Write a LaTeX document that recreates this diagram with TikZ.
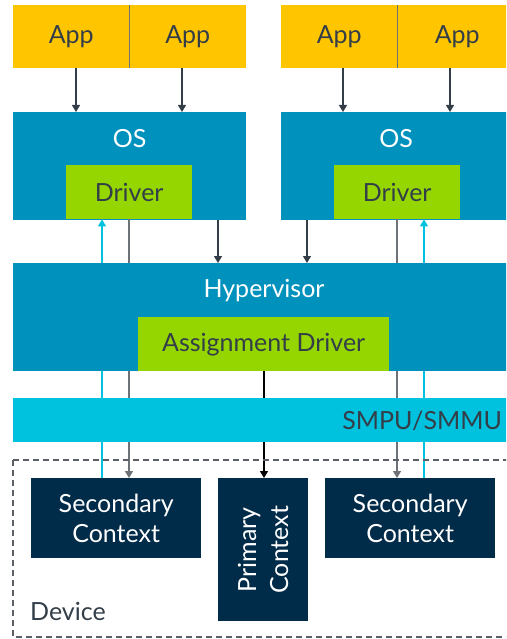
\documentclass[tikz,border=0pt]{standalone}
\usepackage{fontspec}
\setmainfont{Lato}
\usetikzlibrary{arrows.meta,calc,backgrounds}
\definecolor{appyellow}{HTML}{FFC600}
\definecolor{osblue}{HTML}{0091BD}
\definecolor{drvgreen}{HTML}{95D600}
\definecolor{mmucyan}{HTML}{00C1DE}
\definecolor{ctxnavy}{HTML}{002B49}
\definecolor{inktext}{HTML}{333E48}
\definecolor{linegray}{HTML}{6D7278}
\definecolor{dashgray}{HTML}{5A6066}
\tikzset{
  blk/.style={rectangle, inner sep=0pt, anchor=north west, font=\fontsize{25}{30}\selectfont},
  appbox/.style={blk, fill=appyellow, text=inktext},
  osbox/.style={blk, fill=osblue, text=white},
  drvbox/.style={blk, fill=drvgreen, text=inktext},
  ctxbox/.style={blk, fill=ctxnavy, text=white, align=center},
  lbl/.style={inner sep=0pt, font=\fontsize{25}{30}\selectfont},
  tip/.style={-{Triangle[width=8pt,length=7pt]}},
  darkarr/.style={tip, draw=inktext, line width=1.2pt},
  grayln/.style={draw=linegray, line width=1.4pt},
  grayarr/.style={grayln, tip},
  blackarr/.style={tip, draw=black, line width=1.2pt},
  cyanln/.style={draw=mmucyan, line width=1.2pt},
  cyanarr/.style={cyanln, tip},
  devborder/.style={draw=dashgray, line width=1.2pt, dash pattern=on 6pt off 4pt},
}
\begin{document}
\begin{tikzpicture}[x=1pt,y=-1pt]
\useasboundingbox (0,0) rectangle (506,639);
\begin{scope}
\clip (0,0) rectangle (506,639);
% application layer
\node[appbox, minimum width=116pt, minimum height=63pt] (appA) at (13,5) {App};
\node[appbox, minimum width=117pt, minimum height=63pt] (appB) at (129,5) {App};
\node[appbox, minimum width=116pt, minimum height=63pt] (appC) at (281,5) {App};
\node[appbox, minimum width=120pt, minimum height=63pt] (appD) at (397,5) {App};
\draw[linegray, line width=1pt] (appA.north east) -- (appA.south east);
\draw[linegray, line width=1pt] (appC.north east) -- (appC.south east);

% guest operating systems
\node[osbox, minimum width=233pt, minimum height=108pt] (osL) at (13,112) {};
\node[osbox, minimum width=230pt, minimum height=108pt] (osR) at (281,112) {};
\node[lbl, text=white] at ($(osL.north)+(0,27)$) {OS};
\node[lbl, text=white] at ($(osR.north)+(0,27)$) {OS};
\node[drvbox, minimum width=126pt, minimum height=54pt] (drvL) at (66,165) {Driver};
\node[drvbox, minimum width=126pt, minimum height=54pt] (drvR) at (334,165) {Driver};

% hypervisor
\node[osbox, minimum width=500pt, minimum height=108pt] (hyp) at (13,263) {};
\node[lbl, text=white] at (264,291) {Hypervisor};
\node[drvbox, minimum width=251pt, minimum height=54pt] (adrv) at (138,317) {Assignment Driver};

% SMPU/SMMU
\node[blk, fill=mmucyan, minimum width=500pt, minimum height=44pt] (mmu) at (13,398) {};
\node[lbl, text=inktext, anchor=east] at (502,421) {SMPU/SMMU};

% device
\draw[devborder] (13,460) -- (13,637) -- (520,637);
\draw[devborder] (13,460) -- (520,460);
\node[lbl, text=inktext, anchor=west] (dev) at (30,611) {Device};
\node[ctxbox, minimum width=170pt, minimum height=80pt] (secL) at (31,478) {Secondary\\Context};
\node[ctxbox, minimum width=90pt, minimum height=143pt] (prim) at (218,478) {};
\node[lbl, text=white, rotate=90, align=center] at (prim.center) {Primary\\[2pt]Context};
\node[ctxbox, minimum width=170pt, minimum height=80pt] (secR) at (325,478) {Secondary\\Context};

% connector columns
\coordinate (xa) at (76,0);
\coordinate (xb) at (182,0);
\coordinate (xc) at (343,0);
\coordinate (xd) at (450,0);
\coordinate (xe) at (102,0);
\coordinate (xf) at (129,0);
\coordinate (xg) at (218,0);
\coordinate (xh) at (264,0);
\coordinate (xi) at (307,0);
\coordinate (xj) at (397,0);
\coordinate (xk) at (424,0);

% apps to OS
\draw[darkarr] (xa |- appA.south) -- (xa |- osL.north);
\draw[darkarr] (xb |- appB.south) -- (xb |- osL.north);
\draw[darkarr] (xc |- appC.south) -- (xc |- osR.north);
\draw[darkarr] (xd |- appD.south) -- (xd |- osR.north);

% OS to hypervisor
\draw[cyanarr] (xe |- hyp.north) -- (xe |- drvL.south);
\draw[grayln] (xf |- drvL.south) -- (xf |- hyp.north);
\draw[darkarr] (xg |- osL.south) -- (xg |- hyp.north);
\draw[darkarr] (xi |- osR.south) -- (xi |- hyp.north);
\draw[grayln] (xj |- drvR.south) -- (xj |- hyp.north);
\draw[cyanarr] (xk |- hyp.north) -- (xk |- drvR.south);

% hypervisor to device contexts, passing behind the SMPU/SMMU bar
\begin{scope}[on background layer]
\draw[cyanln] (xe |- secL.north) -- (xe |- hyp.south);
\draw[grayarr] (xf |- hyp.south) -- (xf |- secL.north);
\draw[blackarr] (xh |- adrv.south) -- (xh |- prim.north);
\draw[grayarr] (xj |- hyp.south) -- (xj |- secR.north);
\draw[cyanln] (xk |- secR.north) -- (xk |- hyp.south);
\end{scope}
\end{scope}
\end{tikzpicture}
\end{document}
